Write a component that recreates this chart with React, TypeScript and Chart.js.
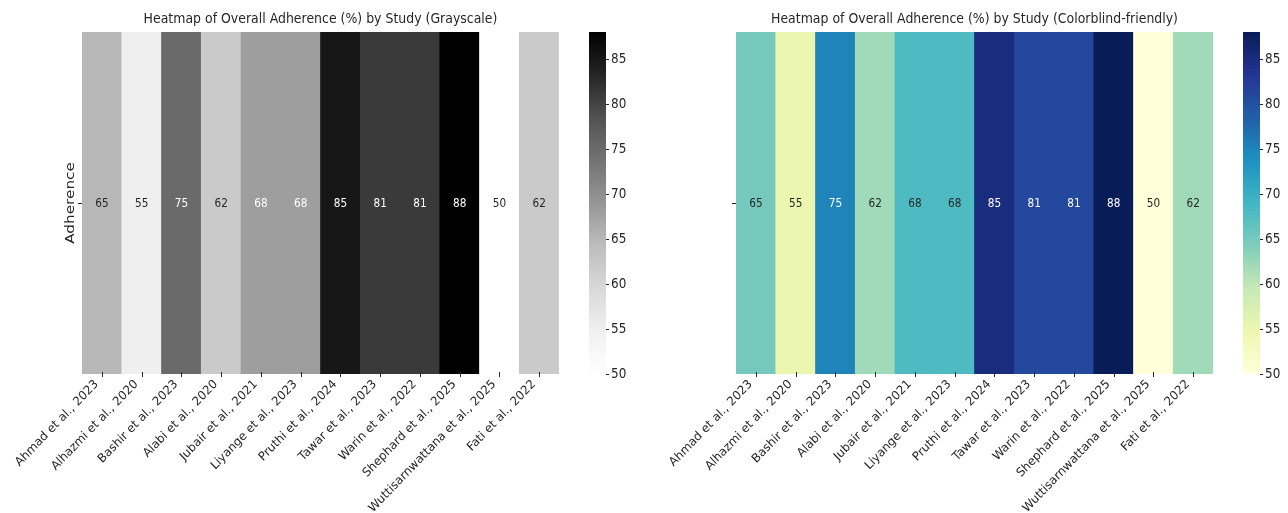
import React, { useEffect, useRef } from "react";
import { Chart, registerables } from "chart.js";

Chart.register(...registerables);

const studies = [
  "Ahmad et al., 2023",
  "Alhazmi et al., 2020",
  "Bashir et al., 2023",
  "Alabi et al., 2020",
  "Jubair et al., 2021",
  "Liyange et al., 2023",
  "Pruthi et al., 2024",
  "Tawar et al., 2023",
  "Warin et al., 2022",
  "Shephard et al., 2025",
  "Wuttisarnwattana et al., 2025",
  "Fati et al., 2022",
];
const adherence = [65, 55, 75, 62, 68, 68, 85, 81, 81, 88, 50, 62];
const colorbarTicks = [50, 55, 60, 65, 70, 75, 80, 85];
const colorMin = 50;
const colorMax = 88;
const rowLabel = "Adherence";
const titleGray = "Heatmap of Overall Adherence (%) by Study (Grayscale)";
const titleColor = "Heatmap of Overall Adherence (%) by Study (Colorblind-friendly)";

const greysStops = ["#ffffff", "#f0f0f0", "#d9d9d9", "#bdbdbd", "#969696", "#737373", "#525252", "#252525", "#000000"];
const ylgnbuStops = ["#ffffd9", "#edf8b1", "#c7e9b4", "#7fcdbb", "#41b6c4", "#1d91c0", "#225ea8", "#253494", "#081d58"];

const FONT = "'DejaVu Sans', sans-serif";
const TEXT = "#262626";

function hexToRgb(h: string) {
  const n = parseInt(h.slice(1), 16);
  return [(n >> 16) & 255, (n >> 8) & 255, n & 255];
}

function cmap(stops: string[], v: number) {
  let t = (v - colorMin) / (colorMax - colorMin);
  t = Math.max(0, Math.min(1, t));
  const pos = t * (stops.length - 1);
  const i = Math.min(stops.length - 2, Math.floor(pos));
  const f = pos - i;
  const a = hexToRgb(stops[i]);
  const b = hexToRgb(stops[i + 1]);
  return [0, 1, 2].map((k) => Math.round(a[k] + (b[k] - a[k]) * f));
}

function rgbStr(c: number[]) {
  return `rgb(${c[0]},${c[1]},${c[2]})`;
}

function luminance(c: number[]) {
  const lin = c.map((x) => {
    const s = x / 255;
    return s <= 0.03928 ? s / 12.92 : Math.pow((s + 0.055) / 1.055, 2.4);
  });
  return 0.2126 * lin[0] + 0.7152 * lin[1] + 0.0722 * lin[2];
}

function drawText(
  ctx: CanvasRenderingContext2D,
  text: string,
  x: number,
  y: number,
  opts: {
    font: string;
    color: string;
    align: CanvasTextAlign;
    baseline: CanvasTextBaseline;
    rotate?: number;
    stretch: number;
  }
) {
  ctx.save();
  ctx.translate(x, y);
  ctx.scale(1, opts.stretch);
  if (opts.rotate) ctx.rotate(opts.rotate);
  ctx.font = opts.font;
  ctx.fillStyle = opts.color;
  ctx.textAlign = opts.align;
  ctx.textBaseline = opts.baseline;
  ctx.fillText(text, 0, 0);
  ctx.restore();
}

type PanelCfg = {
  stops: string[];
  title: string;
  showRowLabel: boolean;
  padLeft: number;
  areaRight: number;
};

function makeChart(canvas: HTMLCanvasElement, cfg: PanelCfg) {
  const W = 644;
  const H = 513;
  const bottom = 374;
  const cbGap = 30;
  const cbWidth = 17;

  const extras = {
    id: "heatmapExtras",
    afterDraw(chart: any) {
      const ctx = chart.ctx as CanvasRenderingContext2D;
      const area = chart.chartArea;
      const xs = chart.scales.x;
      const cb = chart.scales.cb;
      ctx.save();

      // title
      drawText(ctx, cfg.title, (area.left + area.right) / 2, 19, {
        font: `12.5px ${FONT}`,
        color: TEXT,
        align: "center",
        baseline: "middle",
        stretch: 1.15,
      });

      // annotations
      const meta = chart.getDatasetMeta(0);
      const midY = (area.top + area.bottom) / 2;
      meta.data.forEach((el: any, i: number) => {
        const c = cmap(cfg.stops, adherence[i]);
        drawText(ctx, String(adherence[i]), el.x, midY + 0.5, {
          font: `10.5px ${FONT}`,
          color: luminance(c) > 0.39 ? TEXT : "#ffffff",
          align: "center",
          baseline: "middle",
          stretch: 1.15,
        });
      });

      // x tick marks and rotated labels
      ctx.strokeStyle = TEXT;
      ctx.lineWidth = 1;
      studies.forEach((lab, i) => {
        const x = xs.getPixelForTick(i);
        ctx.beginPath();
        ctx.moveTo(Math.round(x) + 0.5, area.bottom - 2);
        ctx.lineTo(Math.round(x) + 0.5, area.bottom + 3);
        ctx.stroke();
        const h = 12;
        drawText(ctx, lab, x - 0.707 * h - 1, area.bottom + 4, {
          font: `11.7px ${FONT}`,
          color: TEXT,
          align: "right",
          baseline: "top",
          rotate: -Math.PI / 4,
          stretch: 1.04,
        });
      });

      // y tick
      ctx.beginPath();
      ctx.moveTo(area.left - 4, Math.round(midY) + 0.5);
      ctx.lineTo(area.left, Math.round(midY) + 0.5);
      ctx.stroke();
      if (cfg.showRowLabel) {
        drawText(ctx, rowLabel, area.left - 11, midY, {
          font: `12.5px ${FONT}`,
          color: TEXT,
          align: "center",
          baseline: "middle",
          rotate: -Math.PI / 2,
          stretch: 1.22,
        });
      }

      // colorbar
      const cbx = area.right + cbGap;
      for (let py = Math.floor(cb.top); py < Math.ceil(cb.bottom); py++) {
        const v = cb.getValueForPixel(py + 0.5);
        ctx.fillStyle = rgbStr(cmap(cfg.stops, v));
        ctx.fillRect(cbx, py, cbWidth, 1);
      }
      ctx.strokeStyle = TEXT;
      colorbarTicks.forEach((t) => {
        const py = Math.round(cb.getPixelForValue(t)) + 0.5;
        ctx.beginPath();
        ctx.moveTo(cbx + cbWidth, py);
        ctx.lineTo(cbx + cbWidth + 3, py);
        ctx.stroke();
        drawText(ctx, String(t), cbx + cbWidth + 5, py, {
          font: `12px ${FONT}`,
          color: TEXT,
          align: "left",
          baseline: "middle",
          stretch: 1.15,
        });
      });
      ctx.restore();
    },
  };

  return new Chart(canvas, {
    type: "bar",
    data: {
      labels: studies,
      datasets: [
        {
          data: studies.map(() => 1),
          backgroundColor: adherence.map((v) => rgbStr(cmap(cfg.stops, v))),
          borderWidth: 0,
          barPercentage: 1,
          categoryPercentage: 1,
        },
      ],
    },
    options: {
      responsive: false,
      animation: false,
      devicePixelRatio: 1,
      layout: { padding: { left: cfg.padLeft, top: 32, right: 0, bottom: 0 } },
      plugins: { legend: { display: false }, tooltip: { enabled: false }, title: { display: false } },
      scales: {
        x: {
          type: "category",
          offset: true,
          grid: { display: false },
          border: { display: false },
          ticks: { display: false },
          afterFit: (s: any) => {
            s.height = H - bottom;
            s.paddingLeft = 0;
            s.paddingRight = 0;
          },
        },
        y: { display: false, min: 0, max: 1 },
        cb: {
          type: "linear",
          position: "right",
          min: colorMin,
          max: colorMax,
          grid: { display: false, drawTicks: false },
          border: { display: false },
          afterBuildTicks: (s: any) => {
            s.ticks = colorbarTicks.map((v) => ({ value: v }));
          },
          ticks: { display: false },
          afterFit: (s: any) => {
            s.width = W - cfg.areaRight;
            s.paddingTop = 0;
            s.paddingBottom = 0;
          },
        },
      },
    },
    plugins: [extras],
  } as any);
}

function Panel({ cfg, left }: { cfg: PanelCfg; left: number }) {
  const ref = useRef<HTMLCanvasElement>(null);
  useEffect(() => {
    if (!ref.current) return;
    const chart = makeChart(ref.current, cfg);
    return () => chart.destroy();
  }, []);
  return (
    <canvas
      ref={ref}
      width={644}
      height={513}
      style={{ position: "absolute", left, top: 0, width: 644, height: 513 }}
    />
  );
}

export default function App() {
  return (
    <div style={{ position: "absolute", left: 0, top: 0, width: 1288, height: 513, background: "#ffffff" }}>
      <Panel
        left={0}
        cfg={{ stops: greysStops, title: titleGray, showRowLabel: true, padLeft: 82, areaRight: 559 }}
      />
      <Panel
        left={644}
        cfg={{ stops: ylgnbuStops, title: titleColor, showRowLabel: false, padLeft: 92, areaRight: 569 }}
      />
    </div>
  );
}
